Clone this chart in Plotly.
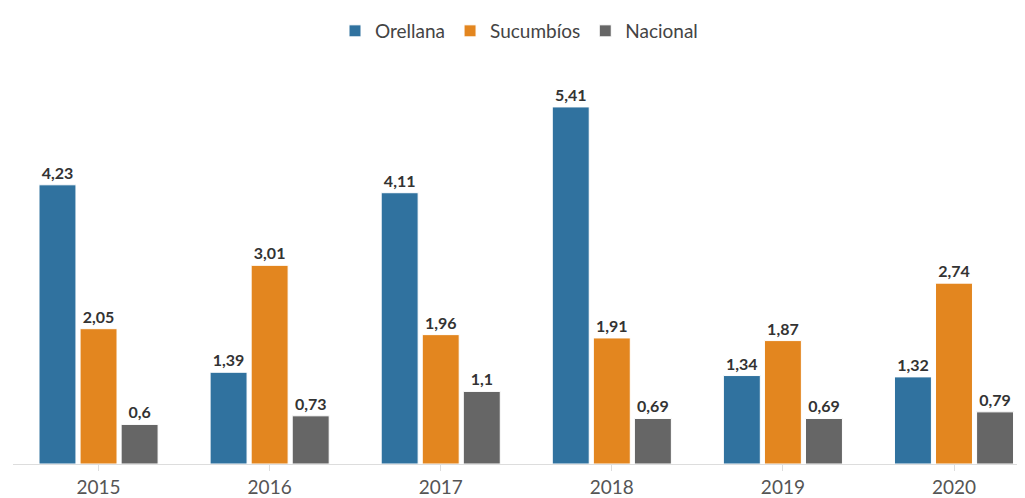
import plotly.graph_objects as go

years = ["2015", "2016", "2017", "2018", "2019", "2020"]
orellana = [4.23, 1.39, 4.11, 5.41, 1.34, 1.32]
sucumbios = [2.05, 3.01, 1.96, 1.91, 1.87, 2.74]
nacional = [0.6, 0.73, 1.1, 0.69, 0.69, 0.79]

series = [
    ("Orellana", orellana, "#30729f"),
    ("Sucumbíos", sucumbios, "#e3861f"),
    ("Nacional", nacional, "#666666"),
]

def fmt(v):
    return f"{v:g}".replace(".", ",")

fig = go.Figure()
for name, vals, color in series:
    fig.add_trace(go.Bar(
        x=years, y=vals, name=name,
        marker=dict(color=color, line=dict(color="white", width=1)),
        text=[fmt(v) for v in vals],
        textposition="outside",
        textfont=dict(family="Lato, Noto Sans, sans-serif", size=16, color="#333333", weight="bold"),
        cliponaxis=False,
    ))

# page body has an 8px default margin; margins compensate so the plot lands where the reference has it
fig.update_layout(
    width=1025, height=498,
    barmode="group", bargap=0.28, bargroupgap=0.1,
    plot_bgcolor="white", paper_bgcolor="white",
    margin=dict(l=5, r=8, t=72, b=42),
    font=dict(family="Lato, Noto Sans, sans-serif", color="#444444"),
    legend=dict(orientation="h", x=0.5, xanchor="center", y=0.992, yref="container", yanchor="top",
                font=dict(size=19, color="#444444"), itemwidth=30, traceorder="normal"),
    xaxis=dict(range=[-0.5, 5.415], showgrid=False, showline=True, linecolor="#dddddd",
               ticks="outside", ticklen=6, tickcolor="#dddddd",
               tickfont=dict(size=19, color="#555555")),
    yaxis=dict(range=[0, 5.818], showgrid=False, showticklabels=False, zeroline=False),
    showlegend=True,
)

fig.write_html("out.html")
